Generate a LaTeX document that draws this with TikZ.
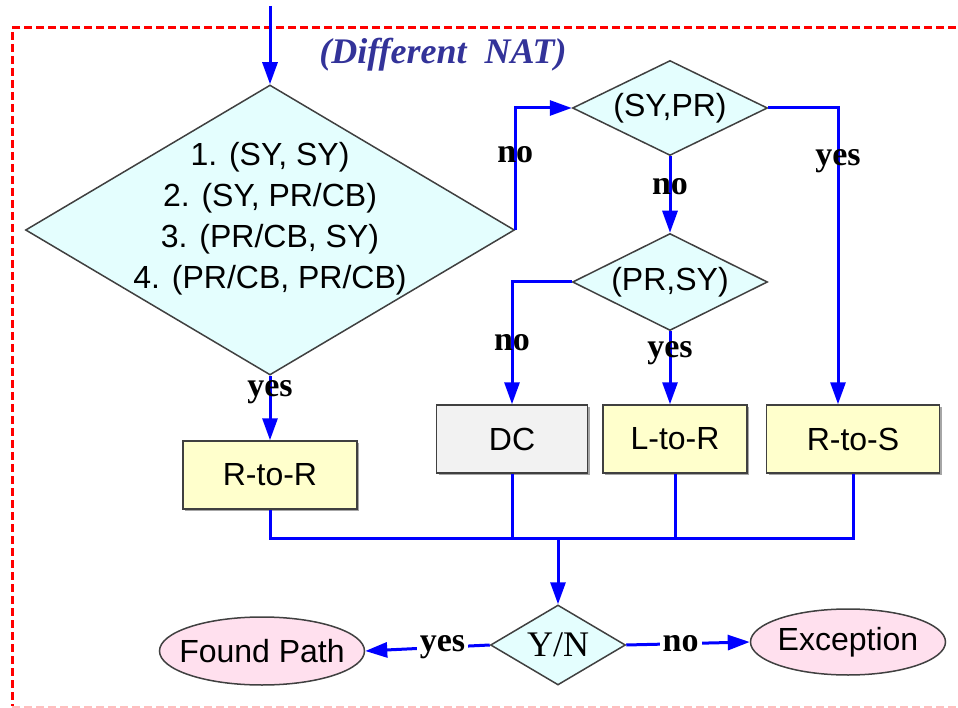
\documentclass[tikz,border=0pt]{standalone}
\usepackage{fontspec}
\setmainfont{Liberation Serif}
\setsansfont{Liberation Sans}
\usetikzlibrary{arrows.meta, shapes.geometric, calc, shadows}
\definecolor{cblue}{HTML}{0000FF}
\definecolor{ccyan}{HTML}{E4FEFE}
\definecolor{cyellow}{HTML}{FFFFCC}
\definecolor{cgrey}{HTML}{F2F2F2}
\definecolor{cpink}{HTML}{FFE0EE}
\definecolor{cnavy}{HTML}{333399}
\definecolor{cedge}{HTML}{404040}
\tikzset{
  every picture/.style={x=1pt, y=-1pt, line width=1.5pt},
  txt/.style={font=\sffamily\fontsize{32}{41}\selectfont, align=center, inner sep=0pt},
  dia/.style={diamond, draw=cedge, fill=ccyan, inner sep=0pt},
  box/.style={draw=cedge, fill=#1, txt, minimum height=68pt, drop shadow={shadow xshift=2pt, shadow yshift=-2pt, fill=black, opacity=0.35}},
  box/.default=cyellow,
  term/.style={ellipse, draw=cedge, fill=cpink, inner sep=0pt},
  link/.style={draw=cblue, line width=3pt},
  arrow/.style={link, -{Triangle[length=22pt, width=15pt]}},
  lbl/.style={font=\bfseries\fontsize{34}{34}\selectfont, inner sep=1pt},
  gap/.style={lbl, fill=white, inner sep=3pt},
  title/.style={font=\bfseries\itshape\fontsize{36}{36}\selectfont, text=cnavy},
  frame/.style={draw=red, line width=3pt, dash pattern=on 8pt off 4pt},
}

\begin{document}
\begin{tikzpicture}
  \useasboundingbox (0,0) rectangle (958,708);
  \draw[frame] (980,28) -- (12,28) -- (12,706);
  \draw[frame, draw=red!25, line width=2pt] (12,707) -- (980,707);
  \node[title] (nat) at (443,55) {(Different\ \ NAT)};
  % decisions
  \node[dia, minimum width=489pt, minimum height=290pt] (pairs) at (270,230) {};
  \node[txt] (pairslist) at ([yshift=11pt]pairs.center) {1. (SY, SY)\\2. (SY, PR/CB)\\3. (PR/CB, SY)\\4. (PR/CB, PR/CB)};
  \node[dia, minimum width=195pt, minimum height=95pt] (sypr) at (670,108) {};
  \node[txt] (syprtext) at (sypr) {(SY,PR)};
  \node[dia, minimum width=195pt, minimum height=97pt] (prsy) at (670,282) {};
  \node[txt] (prsytext) at (prsy) {(PR,SY)};
  \node[dia, minimum width=135pt, minimum height=80pt] (yn) at (558,645) {};
  \node[font=\fontsize{36}{36}\selectfont] (yntext) at (yn) {Y/N};
  % results
  \node[box, minimum width=174pt] (rtor) at (270,475) {R-to-R};
  \node[box=cgrey, minimum width=151pt] (dc) at (512,439) {DC};
  \node[box, minimum width=144pt] (ltor) at (675,439) {L-to-R};
  \node[box, minimum width=173pt] (rtos) at (853,439) {R-to-S};
  \node[term, minimum width=205pt, minimum height=68pt] (found) at (262,651) {};
  \node[txt] (foundtext) at (found) {Found Path};
  \node[term, minimum width=195pt, minimum height=66pt] (exc) at (848,642) {};
  \node[txt] (exctext) at (exc) {Exception};
  % connectors
  \coordinate (entry) at (270,6);
  \coordinate (bus) at (558,538);
  \draw[arrow] (entry) -- (pairs.north);
  \draw[arrow] (pairs.east) |- node[lbl, pos=0.31] {no} (sypr.west);
  \draw[arrow] (pairs.south) -- node[lbl, pos=0.26] {yes} (rtor.north);
  \draw[arrow] (sypr.east) -| node[lbl, pos=0.59] {yes} ([xshift=-15pt]rtos.north);
  \draw[arrow] (sypr.south) -- node[lbl, pos=0.4] {no} (prsy.north);
  \draw[arrow] (prsy.west) -| node[lbl, pos=0.75] {no} (dc.north);
  \draw[arrow] (prsy.south) -- node[lbl, pos=0.3] {yes} (prsy.south |- ltor.north);
  \draw[link] (rtor.south) |- (rtos.south |- bus) -- (rtos.south);
  \draw[link] (dc.south) -- (dc.south |- bus);
  \draw[link] (ltor.south) -- (ltor.south |- bus);
  \draw[arrow] (bus) -- (yn.north);
  \draw[arrow] (yn.west) -- node[gap, pos=0.38] {yes} (found.east);
  \draw[arrow] (yn.east) -- node[gap, pos=0.44] {no} (exc.west);
\end{tikzpicture}
\end{document}
